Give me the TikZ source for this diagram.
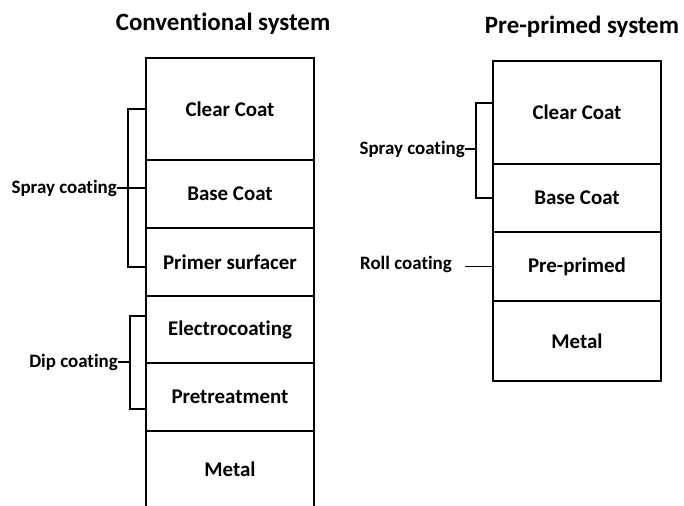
\documentclass[tikz,border=0pt]{standalone}
\usepackage{fontspec}
\setmainfont{Carlito}[Ligatures=NoCommon]
\usepackage{tikz}
\tikzset{layer/.style={draw, line width=1.8pt, minimum width=168bp, inner sep=0pt, font=\fontsize{21}{25}\selectfont\bfseries},
 method/.style={inner sep=0pt, font=\fontsize{19}{23}\selectfont\bfseries},
 heading/.style={inner sep=0pt, font=\fontsize{25}{30}\selectfont\bfseries},
 brace/.style={line width=1.8pt}}

\begin{document}
\begin{tikzpicture}[x=1bp,y=-1bp]
\useasboundingbox (0,0) rectangle (684,506);
 \node [heading] (convT) at (223,24) {Conventional system};
 \node [heading] (preT) at (582,27) {Pre-primed system};
% conventional stack
\node [layer, minimum height=102bp] (clearL) at (230,109) {Clear Coat};
\node [layer, minimum height=68bp] (baseL) at (230,194) {Base Coat};
\node [layer, minimum height=68bp] (primerL) at (230,262) {Primer surfacer};
\node [layer, minimum height=67bp] (electroL) at (230,329.5) {Electrocoating};
\node [layer, minimum height=68bp] (pretreatL) at (230,397) {Pretreatment};
\node [layer, draw=none, outer sep=0pt, minimum height=76bp] (metalL) at (230,469) {Metal};
\draw [brace] (metalL.north west) -- (metalL.south west);
\draw [brace] (metalL.north east) -- (metalL.south east);
% pre-primed stack
\node [layer, minimum height=103bp] (clearR) at (577,112.5) {Clear Coat};
\node [layer, minimum height=68bp] (baseR) at (577,198) {Base Coat};
\node [layer, minimum height=69bp] (primedR) at (577,266.5) {Pre-primed};
\node [layer, minimum height=80bp] (metalR) at (577,341) {Metal};
% coating methods
 \node [method, anchor=east] (sprayL) at (117,188) {Spray coating};
 \node [method, anchor=east] (dipL) at (118,362) {Dip coating};
 \node [method, anchor=east] (sprayR) at (465,149) {Spray coating};
 \node [method, anchor=east] (rollR) at (452,264) {Roll coating};
\coordinate (dipV) at (131,362);
\coordinate (sprayV) at (477,149);
\draw [brace] (clearL.west) -- ++(-17,0) |- ([yshift=-5bp]primerL.west);
\draw [brace] (sprayL.east) -- (sprayL.east -| baseL.west);
\draw [brace] ([yshift=13.5bp]electroL.west) -- ++(-15,0) |- ([yshift=-12bp]pretreatL.west);
\draw [brace] (dipL.east) -- (dipV);
\draw [brace] ([yshift=9.5bp]clearR.west) -- ++(-16,0) |- (baseR.west);
\draw [brace] (sprayR.east) -- (sprayV);
\draw [brace] (primedR.west) -- ++(-27,0);
\end{tikzpicture}
\end{document}
